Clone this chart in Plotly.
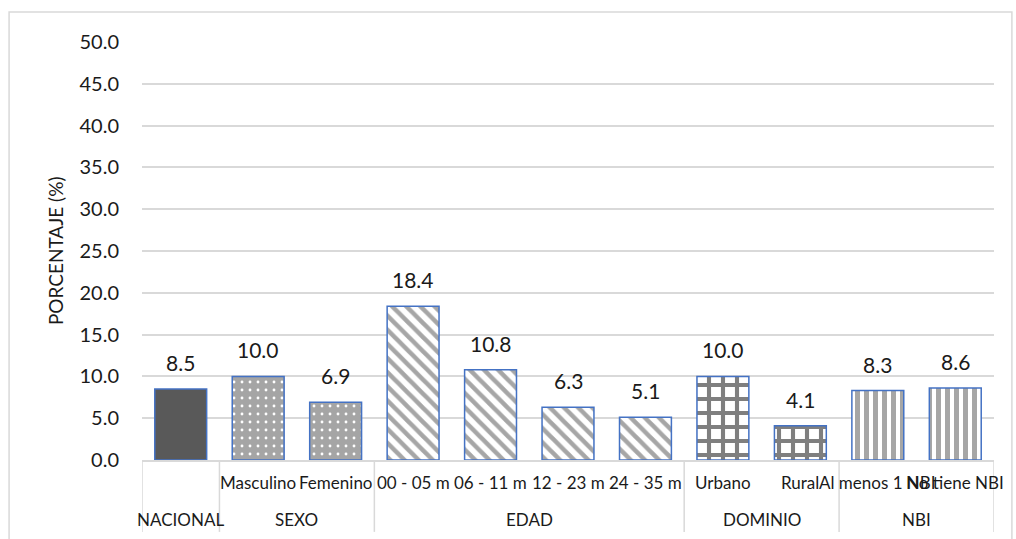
import plotly.graph_objects as go

# Desnutrición crónica por grupo (porcentaje)
groups = ["NACIONAL", "SEXO", "EDAD", "DOMINIO", "NBI"]
categories = [
    [""],
    ["Masculino", "Femenino"],
    ["00 - 05 m", "06 - 11 m", "12 - 23 m", "24 - 35 m"],
    ["Urbano", "Rural"],
    ["Al menos 1 NBI", "No tiene NBI"],
]
values = [
    [8.5],
    [10.0, 6.9],
    [18.4, 10.8, 6.3, 5.1],
    [10.0, 4.1],
    [8.3, 8.6],
]
y_ticks = [0, 5, 10, 15, 20, 25, 30, 35, 40, 45, 50]

FONT = "Lato"
TEXT = "#1a1a1a"
EDGE = "#4472c4"
GRID = "#d9d9d9"

# fill style for each group
styles = [
    dict(color="#595959"),
    dict(color="#a5a5a5", pattern=dict(shape=".", fgcolor="#ffffff", bgcolor="#a5a5a5",
                                       size=8, solidity=0.1, fillmode="overlay", fgopacity=1)),
    dict(color="#ffffff", pattern=dict(shape="\\", fgcolor="#a6a6a6", bgcolor="#ffffff",
                                       size=10, solidity=0.45, fillmode="overlay", fgopacity=1)),
    dict(color="#ffffff", pattern=dict(shape="+", fgcolor="#7f7f7f", bgcolor="#ffffff",
                                       size=14, solidity=0.5, fillmode="overlay", fgopacity=1)),
    dict(color="#ffffff", pattern=dict(shape="|", fgcolor="#a6a6a6", bgcolor="#ffffff",
                                       size=9, solidity=0.55, fillmode="overlay", fgopacity=1)),
]

fig = go.Figure()
annotations = []
shapes = []

pos = 0
bounds = [-0.5]
for g, cats, vals, st in zip(groups, categories, values, styles):
    xs = list(range(pos, pos + len(vals)))
    fig.add_trace(go.Bar(
        x=xs, y=vals, name=g,
        marker=dict(line=dict(color=EDGE, width=1.5), **st),
        hoverinfo="skip", showlegend=False,
    ))
    for x, v, c in zip(xs, vals, cats):
        annotations.append(dict(x=x, y=v, xref="x", yref="y", text=f"{v:.1f}",
                                showarrow=False, yanchor="bottom", yshift=12,
                                font=dict(family=FONT, size=21, color=TEXT)))
        if c:
            annotations.append(dict(x=x, y=-0.055, xref="x", yref="paper", text=c,
                                    showarrow=False, yanchor="middle",
                                    font=dict(family=FONT, size=17, color=TEXT)))
    annotations.append(dict(x=(xs[0] + xs[-1]) / 2, y=-0.1435, xref="x", yref="paper",
                            text=g, showarrow=False, yanchor="middle",
                            font=dict(family=FONT, size=17, color=TEXT)))
    pos += len(vals)
    bounds.append(pos - 0.5)

# vertical dividers of the category table
for b in bounds:
    shapes.append(dict(type="line", xref="x", yref="paper", x0=b, x1=b, y0=0, y1=-0.172,
                       line=dict(color=GRID, width=1.5)))

# outer chart frame
shapes.append(dict(type="rect", xref="paper", yref="paper", x0=-0.156, x1=1.021,
                   y0=-0.25, y1=1.072, line=dict(color=GRID, width=1.5)))

annotations.append(dict(x=-0.102, y=0.5, xref="paper", yref="paper", text="PORCENTAJE (%)",
                        textangle=-90, showarrow=False, xanchor="center", yanchor="middle",
                        font=dict(family=FONT, size=19, color=TEXT)))

fig.update_layout(
    width=1016, height=539,
    margin=dict(l=142, r=22, t=42, b=79),
    paper_bgcolor="white", plot_bgcolor="white",
    barmode="overlay", bargap=0.33,
    annotations=annotations, shapes=shapes,
    xaxis=dict(range=[-0.5, pos - 0.5], showticklabels=False, showgrid=False,
               zeroline=False, showline=True, linecolor=GRID, linewidth=1.5, fixedrange=True),
    yaxis=dict(range=[0, 50], tickvals=y_ticks, ticktext=[f"{t:.1f}" for t in y_ticks],
               showgrid=True, gridcolor=GRID, gridwidth=1.5, zeroline=False,
               ticklabelstandoff=22, tickfont=dict(family=FONT, size=20, color=TEXT),
               fixedrange=True),
    font=dict(family=FONT),
)

fig.write_html("out.html")
